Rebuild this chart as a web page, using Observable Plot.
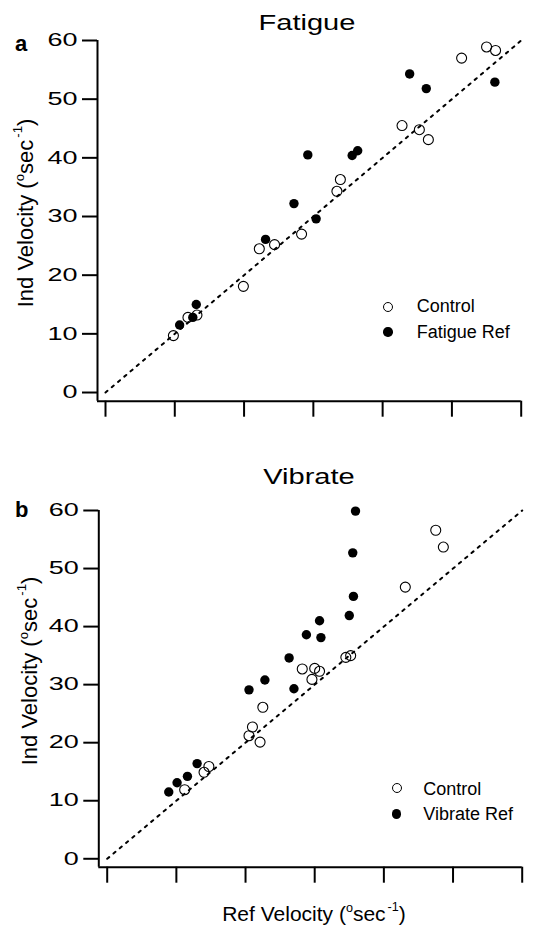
<!DOCTYPE html>
<html><head><meta charset="utf-8">
<script src="https://cdn.jsdelivr.net/npm/d3@7"></script>
<script src="https://cdn.jsdelivr.net/npm/@observablehq/plot@0.6"></script>
<style>
body{margin:0;background:#fff;}
#wrap{position:relative;width:537px;height:931px;overflow:hidden;font-family:"Liberation Sans",Arial,sans-serif;color:#000;background:#fff;}
.abs{position:absolute;white-space:nowrap;line-height:1;}
.sup{font-size:0.6em;position:relative;}
</style></head><body><div id="wrap"></div>
<script>
// ---- data (Ref velocity x, Ind velocity y) ----
const fatigueControlRef = [9.8, 11.9, 13.2, 19.9, 22.2, 24.4, 28.3, 33.4, 33.9, 42.8, 45.3, 46.6, 51.4, 55.0, 56.3];
const fatigueControlInd = [9.7, 12.8, 13.2, 18.1, 24.5, 25.2, 27.0, 34.3, 36.3, 45.5, 44.8, 43.1, 57.0, 58.9, 58.3];
const fatigueRefRef = [10.7, 12.6, 13.1, 23.1, 27.2, 29.2, 30.4, 35.6, 36.4, 43.9, 46.3, 56.2];
const fatigueRefInd = [11.5, 12.8, 15.0, 26.1, 32.2, 40.5, 29.6, 40.4, 41.2, 54.3, 51.8, 52.9];
const vibrateControlRef = [11.2, 14.0, 14.7, 20.5, 21.0, 22.1, 22.5, 28.2, 29.6, 30.0, 30.7, 34.5, 35.2, 43.1, 47.5, 48.6];
const vibrateControlInd = [11.9, 14.9, 15.9, 21.2, 22.7, 20.1, 26.1, 32.7, 30.9, 32.8, 32.3, 34.7, 35.0, 46.8, 56.6, 53.7];
const vibrateRefRef = [8.9, 10.1, 11.6, 13.0, 20.5, 22.8, 26.3, 27.0, 28.8, 30.7, 30.9, 35.0, 35.6, 35.5, 35.9];
const vibrateRefInd = [11.5, 13.1, 14.2, 16.4, 29.1, 30.8, 34.6, 29.3, 38.6, 41.0, 38.1, 41.9, 45.2, 52.7, 59.9];
const axisTicks = [0, 10, 20, 30, 40, 50, 60];
const identityLine = [0, 60];
const panelTitles = ["Fatigue", "Vibrate"];
const panelLetters = ["a", "b"];
const seriesNames = [["Control", "Fatigue Ref"], ["Control", "Vibrate Ref"]];
const yLabelText = 'Ind Velocity (<span class="sup" style="top:-0.7em">o</span>sec<span class="sup" style="top:-0.85em;margin-left:2px">-1</span>)';
const xLabelText = 'Ref Velocity (<span class="sup" style="top:-0.7em">o</span>sec<span class="sup" style="top:-0.85em;margin-left:2px">-1</span>)';

const zip = (xs, ys) => xs.map((x, i) => ({x, y: ys[i]}));
const wrap = document.getElementById("wrap");
const FONT = "'Liberation Sans', Arial, sans-serif";

function addText(html, css) {
  const d = document.createElement("div");
  d.className = "abs";
  d.innerHTML = html;
  Object.assign(d.style, css);
  wrap.appendChild(d);
  return d;
}

function panel(cfg) {
  const {control, ref, xDomain, yDomain, top, height, mt, mb, ml, mr} = cfg;
  const chart = Plot.plot({
    width: 537, height,
    marginTop: mt, marginBottom: mb, marginLeft: ml, marginRight: mr,
    x: {domain: xDomain},
    y: {domain: yDomain},
    style: {background: "transparent", fontFamily: FONT, fontSize: "18px", color: "#000", overflow: "visible"},
    marks: [
      Plot.axisX(axisTicks, {tickSize: 16, strokeWidth: 2, tickFormat: () => "", label: null}),
      Plot.axisY(axisTicks, {tickSize: 15, tickPadding: 5, strokeWidth: 2, label: null, fontSize: 18}),
      Plot.ruleX([xDomain[0]], {strokeWidth: 2}),
      Plot.ruleY([yDomain[0]], {strokeWidth: 2}),
      Plot.line(identityLine, {x: d => d, y: d => d, strokeWidth: 2, strokeDasharray: "2.6,5.6"}),
      Plot.dot(ref, {x: "x", y: "y", r: 4.7, fill: "black", stroke: "none"}),
      Plot.dot(control, {x: "x", y: "y", r: 5, fill: "none", stroke: "black", strokeWidth: 1.1})
    ]
  });
  chart.querySelectorAll('g[aria-label="y-axis tick label"] text').forEach(t => {
    const tr = t.getAttribute("transform") || "";
    t.setAttribute("transform", tr + " scale(1.5,1)");
  });
  chart.style.position = "absolute";
  chart.style.left = "0px";
  chart.style.top = top + "px";
  wrap.appendChild(chart);
}

function circle(cx, cy, filled) {
  const s = document.createElement("div");
  const r = filled ? 4.7 : 5;
  Object.assign(s.style, {
    position: "absolute", left: (cx - r) + "px", top: (cy - r) + "px",
    width: (2 * r) + "px", height: (2 * r) + "px", borderRadius: "50%",
    boxSizing: "border-box",
    background: filled ? "#000" : "transparent",
    border: filled ? "none" : "1.1px solid #000"
  });
  wrap.appendChild(s);
}

function baselineTop(baseline, fs) { return (baseline - 0.8465 * fs) + "px"; }

// ---- top panel ----
panel({control: zip(fatigueControlRef, fatigueControlInd), ref: zip(fatigueRefRef, fatigueRefInd),
  xDomain: [-1.155, 60], yDomain: [-1.48, 60], top: 0, height: 430, mt: 40, mb: 29.3, ml: 97, mr: 16.3});
// ---- bottom panel ----
panel({control: zip(vibrateControlRef, vibrateControlInd), ref: zip(vibrateRefRef, vibrateRefInd),
  xDomain: [-1.215, 60], yDomain: [-1.45, 60], top: 470, height: 430, mt: 40, mb: 33.3, ml: 98.3, mr: 15.3});

// titles
[[307, 30.7], [309, 485]].forEach(([cx, bl], i) => {
  addText(panelTitles[i], {left: (cx - 150) + "px", width: "300px", textAlign: "center", fontSize: "22px",
    top: baselineTop(bl, 22), transform: "scaleX(1.32)", transformOrigin: "center"});
});
// panel letters
[[15, 51.7], [15, 518]].forEach(([x, bl], i) => {
  addText(panelLetters[i], {left: x + "px", fontSize: "22px", fontWeight: "bold", top: baselineTop(bl, 22)});
});
// y labels (rotated)
[[33.5, 212.5], [38, 671]].forEach(([bx, cy]) => {
  const fs = 22, W = 300;
  const cx = bx - 0.3465 * fs;
  addText(yLabelText, {left: (cx - W / 2) + "px", top: (cy - fs / 2) + "px", width: W + "px", height: fs + "px",
    textAlign: "center", fontSize: fs + "px", transform: "rotate(-90deg)", transformOrigin: "center"});
});
// x label
addText(xLabelText, {left: (314 - 150) + "px", width: "300px", textAlign: "center", fontSize: "21px", top: baselineTop(921, 21)});

// legends
[[388, 306.5, 332, 416.7, 312.7, 338], [396.7, 788.3, 814, 423.3, 794.8, 819.8]].forEach(([cx, y1, y2, tx, b1, b2], i) => {
  circle(cx, y1, false);
  circle(cx, y2, true);
  addText(seriesNames[i][0], {left: tx + "px", fontSize: "18px", top: baselineTop(b1, 18)});
  addText(seriesNames[i][1], {left: tx + "px", fontSize: "18px", top: baselineTop(b2, 18)});
});
</script></body></html>
